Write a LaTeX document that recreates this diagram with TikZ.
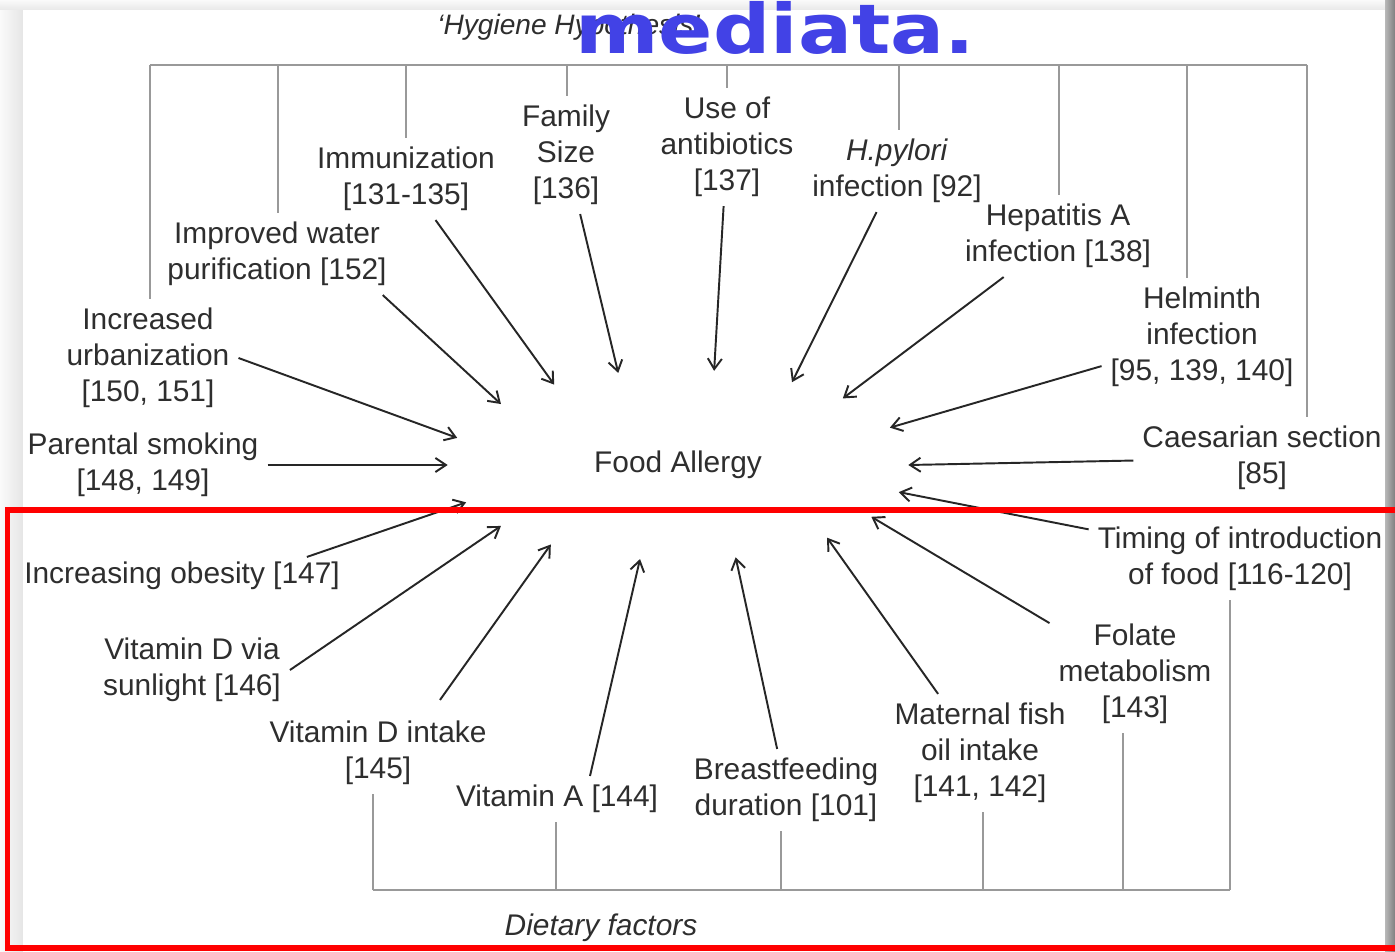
\documentclass[tikz,border=0pt]{standalone}
\usepackage{fontspec}
\usepackage{graphicx}
\setmainfont{Liberation Sans}
\newfontfamily\blobfont{DejaVu Sans}
\usetikzlibrary{arrows.meta,shapes.geometric,calc}

\tikzset{
  factor/.style={align=center, text=black!82, font=\fontsize{17}{20.5}\selectfont, inner sep=5pt},
  link/.style={-{Straight Barb[length=6pt,width=8pt]}, line width=1.1pt, draw=black!85},
  brace/.style={draw=black!40, line width=1pt},
}

\begin{document}
\begin{tikzpicture}[x=0.02cm, y=-0.02cm]
\useasboundingbox (0,0) rectangle (1395,952);

% frame
\shade[left color=black!2, right color=black!10] (0,0) rectangle (23,952);
\shade[top color=black!2, bottom color=black!9] (0,0) rectangle (1395,10);
\fill[white] (23,10) rectangle (1385,952);
\shade[left color=black!28, right color=black!50] (1385,0) rectangle (1395,952);

\node[factor, ellipse, minimum width=9.2cm, minimum height=3.8cm, inner sep=0] (fa) at (678,465) {Food Allergy};

% hygiene side
\node[factor] (urb) at (148,358) {Increased\\urbanization\\{[150, 151]}};
\node[factor] (wat) at (277,254) {Improved water\\purification [152]};
\node[factor] (imm) at (406,179) {Immunization\\{[131-135]}};
\node[factor] (fam) at (566,155) {Family\\Size\\{[136]}};
\node[factor] (abx) at (727,147) {Use of\\antibiotics\\{[137]}};
\node[factor] (hpy) at (897,171) {\textit{H.pylori}\\infection [92]};
\node[factor] (hep) at (1058,236) {Hepatitis A\\infection [138]};
\node[factor] (hel) at (1202,337) {Helminth\\infection\\{[95, 139, 140]}};
\node[factor] (cae) at (1262,458) {Caesarian section\\{[85]}};
\node[factor] (smo) at (143,465) {Parental smoking\\{[148, 149]}};

% dietary side
\node[factor] (tim) at (1240,559) {Timing of introduction\\of food [116-120]};
\node[factor] (obe) at (182,576) {Increasing obesity [147]};
\node[factor] (fol) at (1135,674) {Folate\\metabolism\\{[143]}};
\node[factor] (vds) at (192,670) {Vitamin D via\\sunlight [146]};
\node[factor] (fish) at (980,753) {Maternal fish\\oil intake\\{[141, 142]}};
\node[factor] (vdi) at (378,753) {Vitamin D intake\\{[145]}};
\node[factor] (bre) at (786,790) {Breastfeeding\\duration [101]};
\node[factor] (vita) at (557,799) {Vitamin A [144]};

\node[factor, font=\fontsize{17}{20.5}\selectfont\itshape] (diet) at (601,928) {Dietary factors};
\node[factor, font=\fontsize{16}{20}\selectfont\itshape, anchor=base west, inner sep=0] (hyg) at (437,35) {`Hygiene Hypothesis'};

% brackets
\draw[brace] (150,65) -- (1307,65);
\foreach \x/\n in {150/urb,278/wat,406/imm,567/fam,727/abx,899/hpy,1059/hep,1187/hel,1307/cae}
  \draw[brace] (\x,65) -- (\x,65 |- \n.north);
\draw[brace] (373,890) -- (1230,890);
\foreach \x/\n in {373/vdi,556/vita,781/bre,983/fish,1123/fol,1230/tim}
  \draw[brace] (\x,890) -- (\x,890 |- \n.south);

% arrows
\draw[link] (imm) -- (fa.147);
\draw[link] (fam) -- (fa.123);
\draw[link] (abx) -- (fa.69);
\draw[link] (hpy) -- (fa.36);
\draw[link] (hep) -- (fa.22);
\draw[link] (hel) -- (fa.10);
\draw[link] (cae) -- (fa.0);
\draw[link] (tim) -- (fa.-7);
\draw[link] (fol) -- (fa.-15);
\draw[link] (fish) -- (fa.-26);
\draw[link] (bre) -- (fa.-58);
\draw[link] ($(vita.north)+(33,0)$) -- (fa.-112);
\draw[link] ($(vdi.north)+(62,-12)$) -- (fa.-148);
\draw[link] (vds.east) -- (fa.-161);
\draw[link] ($(obe.north east)+(-42,4)$) -- (fa.-170);
\draw[link] (smo) -- (fa.180);
\draw[link] (urb.east) -- (fa.173);
\draw[link] ($(wat.south east)+(-13,0)$) -- (fa.161);

% overlay
\node[anchor=base west, inner sep=0, text={rgb,255:red,66;green,66;blue,230},
  font=\blobfont\bfseries\fontsize{39}{45}\selectfont] (wm) at (575,54) {\scalebox{1.17}[1]{mediata.}};
\draw[red, line width=0.12cm] (7.5,510) rectangle (1420,948);
\end{tikzpicture}
\end{document}
